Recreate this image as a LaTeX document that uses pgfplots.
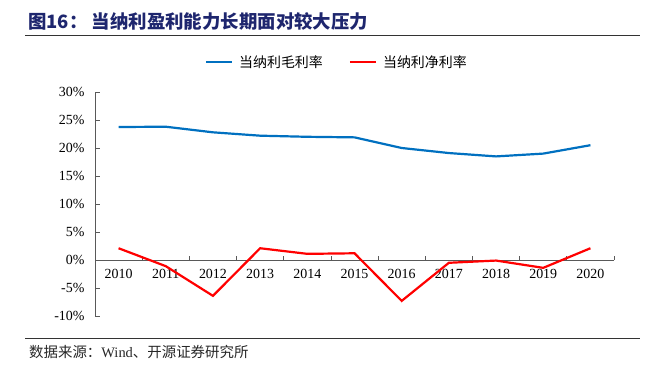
\documentclass[border=0pt]{standalone}
\usepackage{fontspec}
\setmainfont{Liberation Serif}
\newfontfamily\cjk{Noto Sans CJK SC}
\usepackage{pgfplots}
\pgfplotsset{compat=1.18}
\definecolor{gblue}{RGB}{0,112,192}
\definecolor{nred}{RGB}{255,0,0}
\definecolor{navy}{RGB}{30,38,110}
\begin{document}
\begin{tikzpicture}[x=1bp,y=1bp]
\path (0,0) rectangle (665,375);
\node[anchor=west, text=navy, font=\cjk\bfseries\fontsize{18.5}{21}\selectfont, inner sep=0] at (28,354) {图16：~当纳利盈利能力长期面对较大压力};
\draw[line width=0.9bp, black!80] (25,340) -- (640,340);
\draw[line width=0.7bp, black!80] (25,37) -- (640,37);
\node[anchor=west, font=\fontsize{14.5}{17}\selectfont, inner sep=0, text=black!85] at (29,23) {{\cjk 数据来源：}Wind{\cjk 、开源证券研究所}};
\begin{axis}[
  at={(95bp,59bp)}, anchor=south west, scale only axis,
  width=519bp, height=224bp,
  xmin=-0.5, xmax=10.5, ymin=-10, ymax=30,
  axis x line=middle, axis y line=left,
  axis line style={-, black!65, line width=0.8bp},
  xtick={-0.5,0.5,...,10.5},
  xticklabels={},
  extra x ticks={0,...,10},
  extra x tick labels={2010,2011,2012,2013,2014,2015,2016,2017,2018,2019,2020},
  extra x tick style={major tick length=0pt, tick style={draw=none}},
  xtick align=inside,
  ytick={-10,-5,...,30},
  yticklabels={-10\%,-5\%,0\%,5\%,10\%,15\%,20\%,25\%,30\%},
  ytick align=inside,
  major tick length=4.5bp,
  tick style={black!65, line width=0.8bp},
  tick label style={font=\fontsize{14}{16}\selectfont, text=black},
  yticklabel style={xshift=-7bp},
  xticklabel style={yshift=-6bp},
  legend style={at={(0.466,1.134)}, anchor=center, draw=none, fill=none,
    legend columns=2, font=\cjk\fontsize{14}{16}\selectfont,
    /tikz/every even column/.append style={column sep=24bp}},
  legend image code/.code={\draw[#1] (0bp,0bp) -- (26bp,0bp); \path (30bp,0bp);},
  clip=false,
]
\addplot[gblue, line width=2.2bp] coordinates {
(0,23.75) (1,23.8) (2,22.8) (3,22.2) (4,22.0) (5,21.9) (6,20.0) (7,19.1) (8,18.5) (9,19.0) (10,20.5)};
\addlegendentry{当纳利毛利率}
\addplot[nred, line width=2.2bp] coordinates {
(0,2.1) (1,-1.1) (2,-6.4) (3,2.1) (4,1.1) (5,1.2) (6,-7.3) (7,-0.5) (8,-0.1) (9,-1.4) (10,2.1)};
\addlegendentry{当纳利净利率}
\end{axis}
\end{tikzpicture}
\end{document}
